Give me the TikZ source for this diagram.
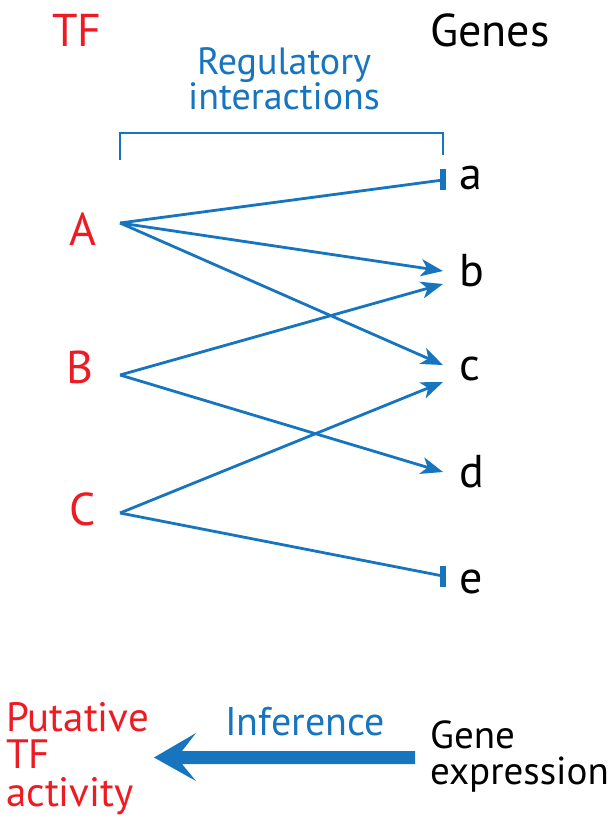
\documentclass[tikz,border=0pt]{standalone}
\usepackage{fontspec}
\setmainfont{PT Sans}
\usetikzlibrary{arrows.meta}
\definecolor{tfred}{RGB}{237,28,36}
\definecolor{regblue}{RGB}{22,117,190}
\begin{document}
\begin{tikzpicture}[x=1pt,y=-1pt,
  big/.style={font=\fontsize{46}{50}\selectfont, inner sep=0pt},
  tflabel/.style={big, text=tfred},
  genelabel/.style={big, text=black, anchor=base west},
  link/.style={draw=regblue, line width=2.8pt},
  act/.style={link, -{Stealth[length=22pt,width=17pt,inset=6pt]}},
  rep/.style={link},
  teebar/.style={fill=regblue, inner sep=0pt, minimum width=6pt, minimum height=21pt}
]
\useasboundingbox (0,0) rectangle (615,818);
% headers
\node[tflabel, anchor=base] (tf) at (77,47) {TF};
\node[big, anchor=base west] (genes) at (430,47) {Genes};
\node[text=regblue, align=center, anchor=base, inner sep=0pt, font=\fontsize{38}{34}\selectfont] (reg) at (284,110) {Regulatory\\interactions};
% bracket
\coordinate (bl) at (120,160);
\coordinate (br) at (443,155);
\draw[draw=regblue, line width=2.4pt] (bl) |- (282,133) -| (br);
% TFs
\node[tflabel] (A) at (83,229) {A};
\node[tflabel] (B) at (80,367) {B};
\node[tflabel] (C) at (83,509) {C};
\coordinate (oA) at (120,223);
\coordinate (oB) at (120,375);
\coordinate (oC) at (120,513);
% genes
\node[genelabel] (a) at (459,190) {a};
\node[genelabel] (b) at (459,286) {b};
\node[genelabel] (c) at (459,380) {c};
\node[genelabel] (d) at (459,487) {d};
\node[genelabel] (e) at (459,593) {e};
\coordinate (ta) at (443,180);
\coordinate (tb1) at (443,271);
\coordinate (tb2) at (443,284);
\coordinate (tc1) at (443,365);
\coordinate (tc2) at (443,382);
\coordinate (td) at (443,472);
\coordinate (te) at (443,576);
% links
\draw[rep] (oA) -- (ta);
\node[teebar] (bara) at (ta) {};
\draw[act] (oA) -- (tb1);
\draw[act] (oA) -- (tc1);
\draw[act] (oB) -- (tb2);
\draw[act] (oB) -- (td);
\draw[act] (oC) -- (tc2);
\draw[rep] (oC) -- (te);
\node[teebar] (bare) at (te) {};
% bottom
\node[text=tfred, align=left, anchor=base west, inner sep=0pt, font=\fontsize{41}{37.5}\selectfont] (put) at (6,806) {Putative\\TF\\activity};
\node[text=regblue, anchor=base west, inner sep=0pt, font=\fontsize{40}{38}\selectfont] (inf) at (225,735) {Inference};
\node[text=black, align=left, anchor=base west, inner sep=0pt, font=\fontsize{39}{36}\selectfont] (ge) at (430,784) {Gene\\expression};
\fill[regblue] (415,751) -- (182,751) -- (196,733) -- (154,757.5) -- (196,781) -- (182,764) -- (415,764) -- cycle;
\end{tikzpicture}
\end{document}
